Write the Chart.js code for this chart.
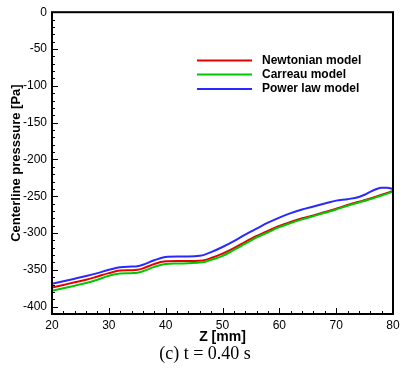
<!DOCTYPE html>
<html>
<head>
<meta charset="utf-8">
<script src="https://cdn.jsdelivr.net/npm/chart.js@4.4.0/dist/chart.umd.min.js"></script>
<style>
  html, body { margin: 0; padding: 0; background: #fff; }
  #wrap { width: 405px; height: 374px; position: relative; }
</style>
</head>
<body>
<div id="wrap"><canvas id="chart"></canvas></div>
<script>
// Z positions along the centerline [mm]
const zValues = [20, 22, 24, 26, 28, 30, 32, 34, 35, 36, 38, 40, 42, 44, 46, 47, 48, 50, 52, 54,
  56, 58, 60, 62, 64, 66, 68, 70, 72, 74, 75, 76, 77, 78, 79, 80];

const newtonian = [-374, -370.5, -367, -363.5, -359, -354.5, -351, -350.5, -350, -348, -342, -338.5,
  -338, -338, -337.5, -336.5, -334, -328, -320.5, -312, -304, -297, -290.5, -285, -280, -276,
  -271.5, -267, -262, -257.5, -255.5, -253, -250.5, -248, -245.5, -243];

const carreau = [-378.5, -375, -371.5, -368, -363.5, -358, -355, -354.5, -354, -352, -346, -342,
  -341.5, -341, -340, -339, -336.5, -331, -323, -314.5, -306, -299, -292, -286.5, -281.5, -277,
  -272.5, -268, -263, -258.5, -256.5, -254, -251.5, -249, -246.5, -244];

const powerLaw = [-369, -365.5, -362, -358.5, -354.5, -350, -346.5, -345.5, -345, -343, -337, -332.5,
  -332, -332, -331, -329, -326, -319, -311, -302, -294, -286, -279, -273, -268, -264, -260, -256,
  -254, -251, -248, -244, -240.5, -238.5, -238.5, -240];

const seriesNames = ['Newtonian model', 'Carreau model', 'Power law model'];
const seriesColors = ['#e60000', '#00c800', '#2828ff'];

const xTicks = [20, 30, 40, 50, 60, 70, 80];
const yTicks = [0, -50, -100, -150, -200, -250, -300, -350, -400];

// frame, inward ticks, legend and titles
const decor = {
  id: 'decor',
  afterDraw(chart) {
    const { ctx, chartArea: a, scales } = chart;
    const xs = scales.x, ys = scales.y;
    ctx.save();
    ctx.strokeStyle = '#000';
    ctx.lineWidth = 1;
    ctx.beginPath();
    for (let v = 20; v <= 80; v += 2) {
      const px = Math.round(xs.getPixelForValue(v)) + 0.5;
      const len = v % 10 === 0 ? 6 : 3;
      ctx.moveTo(px, a.bottom);
      ctx.lineTo(px, a.bottom - len);
    }
    for (let v = 0; v >= -410; v -= 10) {
      const py = Math.round(ys.getPixelForValue(v)) + 0.5;
      const len = v % 50 === 0 ? 6 : 3;
      ctx.moveTo(a.left, py);
      ctx.lineTo(a.left + len, py);
    }
    ctx.stroke();
    ctx.lineWidth = 2;
    ctx.strokeRect(a.left, a.top, a.right - a.left, a.bottom - a.top);

    // legend
    ctx.font = 'bold 12px "Liberation Sans", Arial, sans-serif';
    ctx.textBaseline = 'middle';
    ctx.textAlign = 'left';
    const rows = [60.5, 74.5, 89];
    seriesNames.forEach((name, i) => {
      ctx.strokeStyle = seriesColors[i];
      ctx.lineWidth = 2;
      ctx.beginPath();
      ctx.moveTo(197, rows[i]);
      ctx.lineTo(252, rows[i]);
      ctx.stroke();
      ctx.fillStyle = '#000';
      ctx.fillText(name, 262, rows[i]);
    });

    // axis titles
    ctx.font = 'bold 14px "Liberation Sans", Arial, sans-serif';
    ctx.textAlign = 'center';
    ctx.fillText('Z [mm]', (a.left + a.right) / 2, 337);
    ctx.font = 'bold 13px "Liberation Sans", Arial, sans-serif';
    ctx.save();
    ctx.translate(16, (a.top + a.bottom) / 2);
    ctx.rotate(-Math.PI / 2);
    ctx.fillText('Centerline presssure [Pa]', 0, 0);
    ctx.restore();

    // caption
    ctx.font = '18px "Liberation Serif", "Times New Roman", serif';
    ctx.fillText('(c) t = 0.40 s', 205, 354);
    ctx.restore();
  }
};

const datasets = [powerLaw, newtonian, carreau].map((vals, k) => {
  const idx = [2, 0, 1][k];
  return {
    label: seriesNames[idx],
    data: zValues.map((z, i) => ({ x: z, y: vals[i] })),
    borderColor: seriesColors[idx],
    borderWidth: 2,
    pointRadius: 0,
    fill: false,
    cubicInterpolationMode: 'monotone',
    order: 3 - k
  };
});

new Chart(document.getElementById('chart'), {
  type: 'line',
  data: { datasets },
  options: {
    responsive: true,
    maintainAspectRatio: false,
    animation: false,
    layout: { padding: { left: 0, right: 12, top: 7, bottom: 0 } },
    plugins: { legend: { display: false }, tooltip: { enabled: false } },
    scales: {
      x: {
        type: 'linear',
        min: 20, max: 80,
        grid: { display: false, drawTicks: false },
        border: { display: false },
        afterBuildTicks: s => { s.ticks = xTicks.map(v => ({ value: v })); },
        afterFit: s => { s.height = 60; },
        ticks: {
          color: '#000', padding: 4, maxRotation: 0,
          font: { size: 12, family: '"Liberation Sans", Arial, sans-serif' }
        }
      },
      y: {
        type: 'linear',
        min: -410, max: 0,
        grid: { display: false, drawTicks: false },
        border: { display: false },
        afterBuildTicks: s => { s.ticks = yTicks.map(v => ({ value: v })); },
        afterFit: s => { s.width = 52; },
        ticks: {
          color: '#000', padding: 5,
          font: { size: 12, family: '"Liberation Sans", Arial, sans-serif' }
        }
      }
    }
  },
  plugins: [decor]
});
</script>
</body>
</html>
